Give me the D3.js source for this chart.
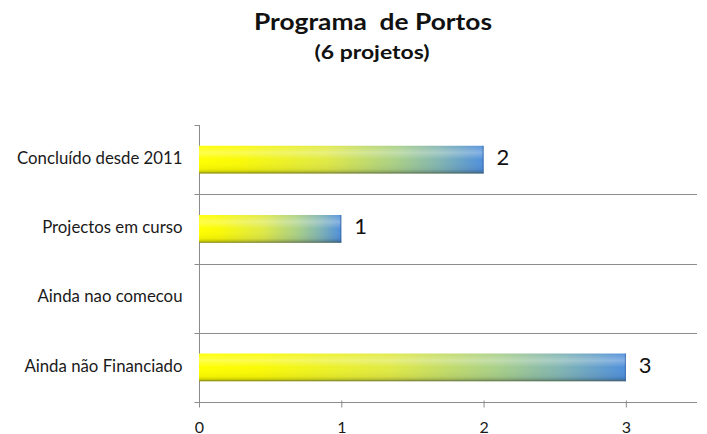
<!DOCTYPE html>
<html>
<head>
<meta charset="utf-8">
<script src="https://cdn.jsdelivr.net/npm/d3@7"></script>
<style>
  html, body { margin: 0; padding: 0; background: #fff; }
  svg { display: block; }
</style>
</head>
<body>
<svg id="chart" width="707" height="434"></svg>
<script>
const titleText = "Programa  de Portos";
const subtitleText = "(6 projetos)";
const categories = ["Concluído desde 2011", "Projectos em curso", "Ainda nao comecou", "Ainda não Financiado"];
const values = [2, 1, 0, 3];
const xTicks = [0, 1, 2, 3];
const xMax = 3.5;

const svg = d3.select("#chart");
const font = "Lato, 'Open Sans', sans-serif";

const margin = { left: 199, top: 125 };
const plotRight = 697;
const plotBottom = 402;

const x = d3.scaleLinear().domain([0, xMax]).range([margin.left, plotRight]);
const y = d3.scaleBand().domain(categories).range([margin.top, plotBottom]).paddingInner(0.6).paddingOuter(0.3);
const yFull = d3.scaleBand().domain(categories).range([margin.top, plotBottom]);

// gradients
const defs = svg.append("defs");
const hg = defs.append("linearGradient").attr("id", "hgrad").attr("x1", "0").attr("x2", "1").attr("y1", "0").attr("y2", "0");
[[0, "#ffff00"], [0.14, "#fafa06"], [0.45, "#dfe946"], [0.7, "#a8cf8a"], [0.85, "#80b4b4"], [1, "#4f8fdc"]]
  .forEach(([o, c]) => hg.append("stop").attr("offset", o).attr("stop-color", c));
const vg = defs.append("linearGradient").attr("id", "vgrad").attr("x1", "0").attr("x2", "0").attr("y1", "0").attr("y2", "1");
[[0, "#ffffff", 0.05], [0.25, "#ffffff", 0.3], [0.5, "#ffffff", 0.0], [0.85, "#000000", 0.06], [1, "#000000", 0.3]]
  .forEach(([o, c, a]) => vg.append("stop").attr("offset", o).attr("stop-color", c).attr("stop-opacity", a));

// gridlines (category separators)
const gridG = svg.append("g");
categories.slice(1).forEach(c => {
  gridG.append("line")
    .attr("x1", margin.left).attr("x2", plotRight)
    .attr("y1", Math.round(yFull(c)) + 0.5).attr("y2", Math.round(yFull(c)) + 0.5)
    .attr("stroke", "#8c8c8c").attr("stroke-width", 1);
});

// y axis
const yAxisG = svg.append("g").attr("transform", `translate(${margin.left + 0.5},0)`);
yAxisG.append("line").attr("y1", margin.top).attr("y2", plotBottom).attr("stroke", "#8c8c8c");
const catBounds = categories.map(c => yFull(c)).concat([plotBottom]);
catBounds.forEach(v => {
  yAxisG.append("line").attr("x1", -5).attr("x2", 0).attr("y1", Math.round(v) + 0.5).attr("y2", Math.round(v) + 0.5).attr("stroke", "#8c8c8c");
});
categories.forEach(c => {
  yAxisG.append("text")
    .attr("x", -17).attr("y", yFull(c) + yFull.bandwidth() / 2)
    .attr("text-anchor", "end").attr("dominant-baseline", "middle")
    .attr("font-family", font).attr("font-size", 16.8).attr("fill", "#1a1a1a")
    .text(c);
});

// x axis
const xAxis = d3.axisBottom(x).tickValues(xTicks).tickSize(5).tickSizeOuter(0).tickPadding(0).tickFormat(d3.format("d"));
const xAxisG = svg.append("g").attr("transform", `translate(0,${plotBottom + 0.5})`).call(xAxis);
xAxisG.select(".domain").attr("stroke", "#8c8c8c").attr("d", `M${margin.left},0H${plotRight}`);
xAxisG.selectAll(".tick line").attr("stroke", "#8c8c8c").attr("y1", -2);
xAxisG.selectAll(".tick text").attr("font-family", font).attr("font-size", 16).attr("fill", "#1a1a1a")
  .attr("y", 30).attr("dy", null);

// bars
const data = categories.map((c, i) => ({ c, v: values[i] })).filter(d => d.v > 0);
const barG = svg.append("g");
const bars = barG.selectAll("g.bar").data(data).join("g").attr("class", "bar");
bars.append("rect")
  .attr("x", x(0)).attr("y", d => y(d.c))
  .attr("width", d => x(d.v) - x(0)).attr("height", y.bandwidth())
  .attr("fill", "url(#hgrad)");
bars.append("rect")
  .attr("x", x(0)).attr("y", d => y(d.c))
  .attr("width", d => x(d.v) - x(0)).attr("height", y.bandwidth())
  .attr("fill", "url(#vgrad)");
bars.append("line")
  .attr("x1", x(0)).attr("x2", d => x(d.v))
  .attr("y1", d => y(d.c) + y.bandwidth() - 0.5).attr("y2", d => y(d.c) + y.bandwidth() - 0.5)
  .attr("stroke", "#5a6a40").attr("stroke-opacity", 0.5);
bars.append("line")
  .attr("x1", d => x(d.v) - 0.5).attr("x2", d => x(d.v) - 0.5)
  .attr("y1", d => y(d.c)).attr("y2", d => y(d.c) + y.bandwidth())
  .attr("stroke", "#2f5f9a").attr("stroke-opacity", 0.7);
bars.append("text")
  .attr("x", d => x(d.v) + 13).attr("y", d => y(d.c) + y.bandwidth() / 2)
  .attr("dominant-baseline", "middle")
  .attr("font-family", font).attr("font-size", 22).attr("fill", "#111")
  .text(d => d.v);

// titles
svg.append("text").attr("x", 373).attr("y", 30).attr("text-anchor", "middle")
  .attr("font-family", font).attr("font-weight", "bold").attr("font-size", 22).attr("fill", "#111")
  .attr("textLength", 238).attr("lengthAdjust", "spacingAndGlyphs")
  .style("white-space", "pre")
  .text(titleText);
svg.append("text").attr("x", 372).attr("y", 59).attr("text-anchor", "middle")
  .attr("font-family", font).attr("font-weight", "bold").attr("font-size", 19).attr("fill", "#111")
  .attr("textLength", 115).attr("lengthAdjust", "spacingAndGlyphs")
  .text(subtitleText);
</script>
</body>
</html>
